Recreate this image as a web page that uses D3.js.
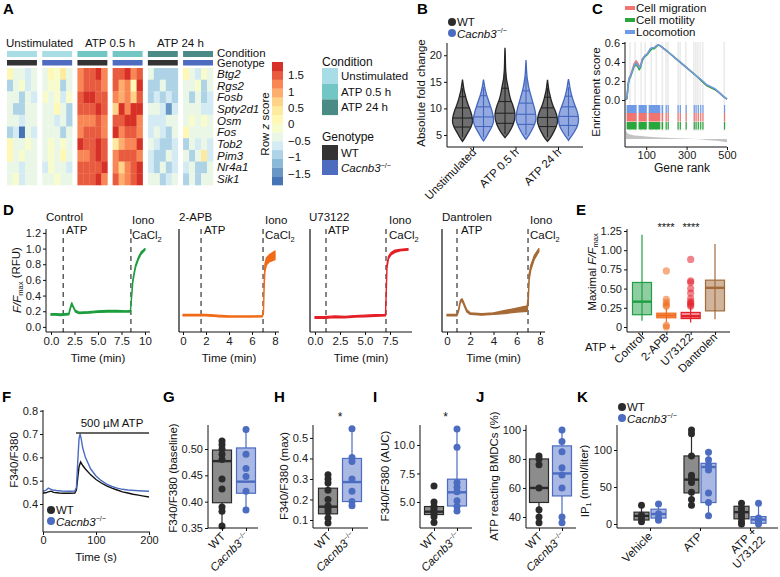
<!DOCTYPE html>
<html>
<head>
<meta charset="utf-8">
<script src="https://cdn.jsdelivr.net/npm/d3@7"></script>
<style>
  body { margin: 0; background: #fff; }
  svg { font-family: "Liberation Sans", Arial, Helvetica, sans-serif; }
</style>
</head>
<body>
<svg width="780" height="577"></svg>
<script>
const FONT = '"Liberation Sans", Arial, Helvetica, sans-serif';

// ---------------- data ----------------
// A: heatmap (row z scores, 6 blocks x 5 samples)
const genes = ['Btg2', 'Rgs2', 'Fosb', 'Spty2d1', 'Osm', 'Fos', 'Tob2', 'Pim3', 'Nr4a1', 'Sik1'];
const conditions = ['Unstimulated', 'ATP 0.5 h', 'ATP 24 h'];
const conditionColors = ['#a9dde6', '#72c6c4', '#4a8b85'];
const genotypeColors = ['#333333', '#4d6cbf'];
const heatPalette = ['#4575b4', '#91bfdb', '#e0f3f8', '#ffffbf', '#fee090', '#fc8d59', '#d73027'];
const zScores = [
  [0.2,-0.5,-0.3,-0.7,-0.3, -0.3,0.1,-0.2,0.3,-0.3, 1.3,1.6,1.4,1.7,1.2, 1.5,1.6,1.8,1.2,1.5, -0.4,-0.9,-1.0,-1.0,-0.8, 0.1,-0.3,-0.6,-0.2,-0.5],
  [-0.8,-0.5,-0.2,-0.6,-0.4, -0.5,-0.2,-0.1,-1.0,-0.3, 1.2,1.6,1.5,1.4,1.3, 1.4,0.9,1.2,0.2,1.7, -1.0,-0.8,-0.4,-1.0,-0.9, -0.5,-0.3,-0.2,-0.8,-0.5],
  [-0.4,-0.5,-0.8,-0.3,-0.6, -0.2,-0.5,0.0,-0.6,-0.2, 1.4,1.7,1.7,1.4,1.5, 1.1,0.9,1.3,0.7,1.6, -0.9,-0.7,-0.8,-0.6,-0.8, -0.4,-0.8,-0.5,-0.9,-0.6],
  [-0.4,-0.8,-0.8,-0.3,-0.5, -0.3,-0.5,0.2,-0.3,-0.8, 1.5,1.6,1.4,1.7,1.6, 0.6,1.8,1.1,1.7,1.7, -0.5,-0.4,-0.7,-1.5,-0.6, -0.3,-0.5,-0.4,-0.6,-0.7],
  [-0.3,-0.3,-0.7,-0.5,-0.5, -0.4,-0.3,-0.6,-0.3,-0.9, 1.2,1.3,1.3,1.5,1.2, 1.6,1.4,1.7,1.9,1.3, -0.7,-0.6,-0.7,-0.4,-0.4, -0.3,-0.2,-0.4,-0.2,-0.3],
  [-0.8,-0.6,-1.8,-0.4,-0.6, -0.3,-0.4,-0.3,-1.0,-0.5, 1.3,1.5,1.5,1.4,1.2, 1.9,1.1,1.4,1.5,1.2, -0.6,-0.5,-0.6,-0.8,-0.5, 0.1,-0.3,-0.3,-0.5,-0.4],
  [0.2,-0.4,-0.3,0.0,-0.5, -0.3,-0.2,-0.3,-0.2,-0.5, 1.9,1.6,1.4,1.8,1.5, 0.3,1.0,1.3,1.2,1.8, -0.5,-0.7,-0.9,-0.8,-0.7, -0.8,-0.5,-0.7,-0.3,-0.6],
  [0.1,-0.5,-0.2,-0.3,-0.4, -0.4,-0.2,-0.3,0.1,-0.3, 1.3,1.3,1.6,1.7,1.4, 1.2,1.5,1.4,1.6,1.3, -0.6,-1.0,-0.8,-0.5,-0.7, -0.5,-0.9,-0.5,0.3,-0.7],
  [-0.5,-0.4,-0.6,-0.3,-0.5, -0.6,-0.2,-0.4,-0.3,-0.6, 1.4,1.6,1.6,1.5,1.7, 1.3,0.8,1.2,1.5,1.8, -0.7,-0.8,-0.5,-0.9,-0.6, -0.6,-0.3,-0.8,-1.0,-0.5],
  [-0.3,-0.2,-0.6,-0.3,-0.4, -0.5,-0.3,-0.2,-0.4,-0.5, 1.5,1.6,1.5,1.8,1.3, 1.4,1.0,1.2,1.6,1.7, -0.4,-0.5,-0.8,-0.6,-0.5, -0.9,-0.3,-1.0,-0.5,-0.4]
];
const zTicks = [1.5, 1, 0.5, 0, -0.5, -1, -1.5];

// B: violin profiles [fold change, relative width]
const bGroups = ['Unstimulated', 'ATP 0.5 h', 'ATP 24 h'];
const violinWT = [
  [[3.8,0],[4.5,0.25],[5.5,0.55],[6.5,0.85],[7.5,1],[8.5,0.95],[9.5,0.8],[10.5,0.6],[11.5,0.42],[12.5,0.28],[13.5,0.15],[14.5,0.07],[15.4,0]],
  [[4.5,0],[5.5,0.4],[6.5,0.7],[7.5,0.9],[8.5,1],[9.5,0.95],[10.5,0.8],[11.5,0.6],[12.5,0.45],[13.5,0.35],[14.5,0.25],[15.5,0.15],[16.5,0.1],[17.5,0.06],[19,0.04],[20.5,0.02],[21.4,0]],
  [[3.8,0],[4.5,0.3],[5.5,0.6],[6.5,0.85],[7.5,1],[8.5,0.95],[9.5,0.78],[10.5,0.55],[11.5,0.38],[12.5,0.25],[13.5,0.13],[14.5,0.06],[15.4,0]]
];
const violinKO = [
  [[3.9,0],[4.5,0.22],[5.5,0.52],[6.5,0.82],[7.5,1],[8.5,0.97],[9.5,0.85],[10.5,0.68],[11.5,0.5],[12.5,0.32],[13.5,0.18],[14.5,0.08],[15.4,0]],
  [[4.2,0],[5,0.3],[6,0.6],[7,0.85],[8,1],[9,0.95],[10,0.85],[11,0.7],[12,0.55],[13,0.4],[14,0.27],[15,0.18],[16,0.1],[17,0.06],[18,0.03],[19.1,0]],
  [[4,0],[4.8,0.3],[5.8,0.65],[6.8,0.9],[7.8,1],[8.8,0.95],[9.8,0.8],[10.8,0.6],[11.8,0.42],[12.8,0.27],[13.8,0.15],[14.8,0.07],[15.5,0]]
];
const violinLinesWT = [[6.5, 8.2, 10.1, 12.2], [7.2, 9.1, 11.3, 13.8], [6.6, 8.3, 10.1, 12.1]];
const violinLinesKO = [[6.6, 8.4, 10.3, 12.4], [7.0, 8.9, 11.0, 13.3], [6.8, 8.5, 10.3, 12.3]];
const violinStemWT = [[4.6, 13.8], [5.2, 17], [4.6, 13.8]];
const violinStemKO = [[4.6, 14], [5, 16], [4.8, 14]];

// C: GSEA running enrichment score
const esLocomotion = [[0,0],[5,0.02],[10,0.15],[15,0.22],[22,0.25],[30,0.3],[40,0.36],[50,0.39],[58,0.37],[65,0.34],[72,0.35],[80,0.42],[88,0.45],[95,0.47],[103,0.48],[110,0.5],[120,0.54],[130,0.55],[140,0.55],[150,0.57],[160,0.58],[170,0.57],[200,0.52],[250,0.43],[300,0.34],[350,0.25],[380,0.2],[400,0.16],[420,0.14],[440,0.12],[460,0.08],[480,0.04],[500,0.01]];
const esMigration = [[0,0],[5,0.02],[10,0.16],[15,0.23],[22,0.26],[30,0.31],[40,0.38],[50,0.41],[58,0.39],[65,0.36],[72,0.36],[80,0.43],[88,0.45],[95,0.47],[103,0.48],[110,0.5],[120,0.53],[130,0.55],[140,0.55],[150,0.57],[160,0.58],[170,0.57],[200,0.52],[250,0.43],[300,0.34],[350,0.25],[380,0.19],[400,0.15],[420,0.13],[440,0.11],[460,0.08],[480,0.04],[500,0.01]];
const esMotility = [[0,0],[5,0.02],[10,0.15],[15,0.21],[22,0.24],[30,0.29],[40,0.35],[50,0.37],[58,0.35],[65,0.32],[72,0.34],[80,0.41],[88,0.44],[95,0.46],[103,0.47],[110,0.49],[120,0.52],[130,0.54],[140,0.54],[150,0.56],[160,0.58],[170,0.57],[200,0.52],[250,0.43],[300,0.34],[350,0.25],[380,0.19],[400,0.15],[420,0.13],[440,0.11],[460,0.08],[480,0.04],[500,0.01]];
const hitRanges = [[3,53],[62,103],[112,170],[176,184],[196,200],[206,211],[255,260],[266,270],[295,298],[335,338],[344,347],[355,358],[367,370],[378,381],[485,488]];
const gridRanks = [20, 45, 75, 95, 125, 150, 180, 198, 208, 258, 268, 296, 336, 346, 356, 368, 380, 486];
const rankMetric = [[0,0.9],[10,0.6],[30,0.45],[60,0.35],[100,0.28],[200,0.15],[300,0.05],[350,0],[400,-0.1],[450,-0.2],[500,-0.35]];

// D: calcium traces [time (min), low, high]
const traceControl = [[0,0.15,0.17],[0.5,0.15,0.17],[1,0.145,0.165],[1.5,0.15,0.17],[1.9,0.155,0.175],[2.05,0.22,0.25],[2.2,0.29,0.31],[2.35,0.25,0.27],[2.6,0.19,0.21],[3,0.17,0.19],[4,0.175,0.195],[5,0.185,0.205],[6,0.19,0.21],[7,0.19,0.21],[8,0.19,0.205],[8.45,0.19,0.21],[8.55,0.33,0.37],[8.7,0.56,0.6],[8.85,0.67,0.7],[9.0,0.76,0.79],[9.3,0.86,0.89],[9.6,0.93,0.96],[10,0.98,1.0]];
const trace2APB = [[0,0.14,0.16],[1,0.14,0.16],[2,0.14,0.16],[3,0.13,0.15],[4,0.125,0.14],[5,0.125,0.14],[6,0.125,0.14],[6.9,0.13,0.145],[7.0,0.18,0.22],[7.05,0.45,0.55],[7.12,0.7,0.8],[7.25,0.79,0.88],[7.5,0.83,0.92],[8.0,0.86,0.97]];
const traceU73122 = [[0,0.11,0.13],[1,0.11,0.13],[2,0.12,0.14],[3,0.115,0.135],[4,0.125,0.145],[5,0.13,0.15],[6,0.135,0.155],[7.05,0.14,0.16],[7.12,0.4,0.45],[7.2,0.75,0.8],[7.35,0.87,0.9],[7.6,0.92,0.95],[8,0.95,0.98],[8.5,0.97,0.99],[9.3,0.98,1.0]];
const traceDantrolen = [[0,0.14,0.16],[0.85,0.14,0.16],[1.0,0.2,0.23],[1.15,0.31,0.34],[1.3,0.33,0.36],[1.45,0.28,0.31],[1.7,0.19,0.22],[2,0.16,0.18],[3,0.15,0.17],[4,0.16,0.18],[5,0.17,0.21],[6,0.19,0.24],[6.9,0.2,0.27],[7.0,0.35,0.42],[7.07,0.6,0.68],[7.2,0.72,0.78],[7.5,0.86,0.91],[7.9,0.96,1.0]];

// E: maximal F/Fmax boxplots [lower whisker, q1, median, q3, upper whisker]
const eGroups = ['Control', '2-APB', 'U73122', 'Dantrolen'];
const eColors = ['#1f9e44', '#f0691a', '#e31f2a', '#a36a3a'];
const eStats = [[0.08,0.16,0.33,0.58,1.2], [0.06,0.12,0.15,0.18,0.24], [0.06,0.11,0.14,0.19,0.26], [0.1,0.21,0.51,0.61,1.08]];
const eOutliers = [[], [0.73,0.36,0.32,0.29,0.27,0.02,0.0], [0.88,0.6,0.58,0.5,0.44,0.37,0.33,0.31,0.29,0.27], []];

// F: F340/F380 traces [time (s), ratio]
const fTraceWT = [[0,0.447],[5,0.448],[10,0.452],[15,0.455],[20,0.45],[30,0.447],[40,0.446],[50,0.446],[60,0.447],[63,0.46],[66,0.52],[68,0.56],[71,0.58],[75,0.565],[80,0.55],[90,0.525],[100,0.505],[110,0.49],[120,0.478],[130,0.468],[140,0.46],[150,0.452],[160,0.447],[170,0.442],[180,0.438],[190,0.434],[200,0.43]];
const fTraceKO = [[0,0.455],[5,0.458],[10,0.468],[13,0.465],[18,0.46],[25,0.458],[35,0.456],[50,0.455],[60,0.456],[63,0.47],[66,0.6],[68,0.68],[70,0.7],[72,0.68],[75,0.64],[80,0.6],[90,0.55],[100,0.52],[110,0.5],[120,0.485],[130,0.475],[140,0.468],[150,0.463],[160,0.46],[180,0.457],[200,0.455]];

// G-J: WT vs Cacnb3-/- boxplots
const gStats = [[0.354,0.398,0.477,0.498,0.515], [0.384,0.416,0.438,0.502,0.537]];
const gPoints = [[0.515,0.508,0.50,0.49,0.48,0.443,0.424,0.39,0.382,0.354], [0.537,0.49,0.463,0.448,0.42,0.384]];
const hStats = [[0.085,0.13,0.165,0.255,0.32], [0.17,0.19,0.285,0.40,0.545]];
const hPoints = [[0.32,0.3,0.28,0.245,0.2,0.17,0.155,0.14,0.11,0.085], [0.545,0.405,0.385,0.3,0.24,0.19,0.17]];
const iStats = [[3.2,3.9,4.15,4.6,5.0], [4.2,4.65,5.85,7.0,11.4]];
const iPoints = [[6.4,5.0,4.6,4.4,4.2,4.0,3.7,3.2], [11.4,9.8,6.7,6.3,5.9,5.1,4.6,4.2]];
const jStats = [[36,50,60,80,82], [36,54.5,70,89,100]];
const jPoints = [[82,80,76,60,45,40,36], [100,92,85,74,69,60,40,36]];

// K: IP1 per treatment, [WT, Cacnb3-/-]
const kGroups = ['Vehicle', 'ATP', 'ATP + U73122'];
const kStatsWT = [[3,5.4,11,16,25.5], [25.5,42,60,92,127], [0,7,16,24,28]];
const kStatsKO = [[5,8,13.5,20,27], [11,29,77,82,97], [0,1,6,10,28]];
const kPointsWT = [[25.5,12,7,3], [127,122,92,66,62,56,43,33,25.5], [28,22,17,12,8,3,0]];
const kPointsKO = [[27,14,8,5], [97,87,80,73,42,29,11], [28,8,6,3,0]];

// ---------------- helpers ----------------
const svg = d3.select('svg');
svg.append('rect').attr('width', 780).attr('height', 577).attr('fill', '#fff');
const WTc = { stroke: '#2b2b2b', fill: '#8c8c8c', dot: '#2b2b2b' };
const KOc = { stroke: '#4b6cc1', fill: '#a9b9e4', dot: '#4b6cc1' };

function letter(x, y, s) {
  svg.append('text').attr('x', x).attr('y', y).text(s)
    .attr('font-size', 15).attr('font-weight', 'bold').attr('fill', '#000');
}
function text(g, x, y, s, size, anchor) {
  return g.append('text').attr('x', x).attr('y', y).text(s)
    .attr('font-size', size || 11.5).attr('text-anchor', anchor || 'start').attr('fill', '#111');
}
function koText(t) {
  t.append('tspan').attr('font-style', 'italic').text('Cacnb3');
  t.append('tspan').attr('font-size', '0.62em').attr('dy', '-0.6em').text('−/−');
}
function yAxis(g, y, x, ticks, fmt) {
  const ax = g.append('g').attr('transform', `translate(${x},0)`)
    .call(d3.axisLeft(y).tickValues(ticks).tickFormat(fmt || null).tickSize(3).tickPadding(2))
    .attr('font-size', 11).attr('font-family', FONT);
  ax.select('.domain').attr('stroke', '#111').attr('d', `M0,${y.range()[0]}V${y.range()[1]}`);
  ax.selectAll('.tick line').attr('stroke', '#111');
  ax.selectAll('.tick text').attr('fill', '#1a1a1a');
  return ax;
}
function xAxis(g, x, yPos, ticks, fmt, x0, x1) {
  const ax = g.append('g').attr('transform', `translate(0,${yPos})`)
    .call(d3.axisBottom(x).tickValues(ticks).tickFormat(fmt === undefined ? null : fmt).tickSize(3).tickPadding(1.5))
    .attr('font-size', 11).attr('font-family', FONT);
  ax.select('.domain').attr('stroke', '#111').attr('d', `M${x0},0H${x1}`);
  ax.selectAll('.tick line').attr('stroke', '#111');
  ax.selectAll('.tick text').attr('fill', '#1a1a1a');
  return ax;
}
function yTitle(g, ax, axisX, cy, build) {
  const bb = ax.node().getBBox();
  const t = g.append('text').attr('transform', `translate(${axisX + bb.x - 5},${cy}) rotate(-90)`)
    .attr('text-anchor', 'middle').attr('font-size', 11.5).attr('fill', '#111');
  if (typeof build === 'string') t.text(build); else build(t);
  return t;
}
function rotLabel(g, x, y, build) {
  const t = g.append('text').attr('transform', `translate(${x},${y}) rotate(-45)`)
    .attr('text-anchor', 'end').attr('font-size', 11.5).attr('fill', '#111');
  if (typeof build === 'string') t.text(build); else build(t);
  return t;
}
function boxplot(g, cx, w, s, y, col, fillOpacity) {
  g.append('line').attr('x1', cx).attr('x2', cx).attr('y1', y(s[0])).attr('y2', y(s[4]))
    .attr('stroke', col.stroke).attr('stroke-width', 1.2);
  g.append('rect').attr('x', cx - w / 2).attr('y', y(s[3])).attr('width', w).attr('height', y(s[1]) - y(s[3]))
    .attr('fill', col.fill).attr('fill-opacity', fillOpacity).attr('stroke', col.stroke).attr('stroke-width', 1.2);
  g.append('line').attr('x1', cx - w / 2).attr('x2', cx + w / 2).attr('y1', y(s[2])).attr('y2', y(s[2]))
    .attr('stroke', col.stroke).attr('stroke-width', 2.4);
}
function dots(g, cx, vals, y, color, r, op) {
  g.selectAll(null).data(vals).enter().append('circle')
    .attr('cx', cx).attr('cy', d => y(d)).attr('r', r || 3.5)
    .attr('fill', color).attr('fill-opacity', op || 1);
}
function legendDots(g, x, y) {
  g.append('circle').attr('cx', x).attr('cy', y).attr('r', 4).attr('fill', WTc.dot);
  text(g, x + 5, y + 4, 'WT', 11.5);
  g.append('circle').attr('cx', x).attr('cy', y + 11).attr('r', 4).attr('fill', KOc.dot);
  koText(text(g, x + 5, y + 15.5, '', 11.5));
}

// ---------------- A: heatmap ----------------
const gA = svg.append('g');
letter(3, 14, 'A');
const blockX = d3.scaleBand().domain(d3.range(6)).range([7, 213]).paddingInner(0.15);
const colX = d3.scaleBand().domain(d3.range(5)).range([0, blockX.bandwidth()]);
const rowY = d3.scaleBand().domain(genes).range([68, 185]);
const heatInterp = d3.piecewise(d3.interpolateRgb, heatPalette);
const zScale = d3.scaleQuantize().domain([-1.85, 1.9]).range(d3.quantize(heatInterp, 14));

genes.forEach((gene, r) => {
  zScores[r].forEach((v, i) => {
    const b = Math.floor(i / 5), c = i % 5;
    gA.append('rect').attr('x', blockX(b) + colX(c)).attr('y', rowY(gene))
      .attr('width', colX.bandwidth() + 0.3).attr('height', rowY.bandwidth() + 0.3).attr('fill', zScale(v));
  });
  text(gA, 217, rowY(gene) + rowY.bandwidth() / 2 + 4, gene, 11.5).attr('font-style', 'italic');
});
d3.range(6).forEach(b => {
  gA.append('rect').attr('x', blockX(b)).attr('y', 51).attr('width', blockX.bandwidth()).attr('height', 6)
    .attr('fill', conditionColors[Math.floor(b / 2)]);
  gA.append('rect').attr('x', blockX(b)).attr('y', 60).attr('width', blockX.bandwidth()).attr('height', 5.5)
    .attr('fill', genotypeColors[b % 2]);
});
conditions.forEach((c, i) => {
  const cx = (blockX(2 * i) + blockX(2 * i + 1) + blockX.bandwidth()) / 2;
  text(gA, cx, 47, c, 11.5, 'middle');
});
text(gA, 217, 57, 'Condition', 11.5);
text(gA, 217, 67, 'Genotype', 11);

const zBar = d3.scaleLinear().domain([-1.85, 1.9]).range([185, 62]);
zScale.range().forEach(col => {
  const [a, b] = zScale.invertExtent(col);
  gA.append('rect').attr('x', 272).attr('y', zBar(b)).attr('width', 11).attr('height', zBar(a) - zBar(b) + 0.3).attr('fill', col);
});
zTicks.forEach(t => text(gA, 288, zBar(t) + 4, d3.format('')(t), 11.5));
const rz = gA.append('text').attr('transform', 'translate(269,124) rotate(-90)').attr('text-anchor', 'middle')
  .attr('font-size', 11.5).attr('fill', '#111');
rz.append('tspan').text('Row ');
rz.append('tspan').attr('font-style', 'italic').text('z');
rz.append('tspan').text(' score');

text(gA, 322, 66, 'Condition', 12);
conditions.forEach((c, i) => {
  gA.append('rect').attr('x', 322).attr('y', 68 + i * 15.7).attr('width', 16).attr('height', 15.7).attr('fill', conditionColors[i]);
  text(gA, 341, 80 + i * 15.7, c, 11.5);
});
text(gA, 322, 141, 'Genotype', 12);
genotypeColors.forEach((c, i) => {
  gA.append('rect').attr('x', 322).attr('y', 145 + i * 15).attr('width', 16).attr('height', 15).attr('fill', c);
});
text(gA, 341, 157, 'WT', 11.5);
koText(text(gA, 341, 172, '', 11.5));

// ---------------- B: violins ----------------
const gB = svg.append('g');
letter(417, 14, 'B');
const bY = d3.scaleLinear().domain([2.75, 22.3]).range([147, 43]);
const bX = d3.scalePoint().domain(bGroups).range([473, 558]);
const axB = yAxis(gB, bY, 447, [5, 10, 15, 20]);
yTitle(gB, axB, 447, 93, 'Absolute fold change');
xAxis(gB, bX, 147, bGroups, '', 447, 583);

function widthAt(prof, v) {
  for (let i = 1; i < prof.length; i++) {
    if (v <= prof[i][0]) {
      const a = prof[i - 1], b = prof[i];
      return a[1] + (b[1] - a[1]) * (v - a[0]) / (b[0] - a[0]);
    }
  }
  return 0;
}
function violin(cx, prof, lines, stem, col) {
  const hw = 10;
  const area = d3.area().y(d => bY(d[0])).x0(d => cx - d[1] * hw).x1(d => cx + d[1] * hw).curve(d3.curveCatmullRom);
  gB.append('path').attr('d', area(prof)).attr('fill', col.fill).attr('stroke', col.stroke).attr('stroke-width', 1.3);
  lines.forEach(v => {
    const w = widthAt(prof, v) * hw;
    gB.append('line').attr('x1', cx - w).attr('x2', cx + w).attr('y1', bY(v)).attr('y2', bY(v))
      .attr('stroke', col.stroke).attr('stroke-width', 1.1);
  });
  gB.append('line').attr('x1', cx).attr('x2', cx).attr('y1', bY(stem[0])).attr('y2', bY(stem[1]))
    .attr('stroke', col.stroke).attr('stroke-width', 1.1);
}
const vWT = { fill: '#6e6e6e', stroke: '#252525' };
const vKO = { fill: '#93a9df', stroke: '#4467bf' };
bGroups.forEach((g, i) => {
  const cx = bX(g);
  violin(cx - 10.5, violinWT[i], violinLinesWT[i], violinStemWT[i], vWT);
  violin(cx + 10.5, violinKO[i], violinLinesKO[i], violinStemKO[i], vKO);
  rotLabel(gB, cx + 4, 153, g);
});
legendDots(gB, 452, 22);

// ---------------- C: GSEA ----------------
const gC = svg.append('g');
letter(592, 14, 'C');
const cX = d3.scaleLinear().domain([0, 500]).range([626, 727]);
const cY = d3.scaleLinear().domain([-0.495, 0.61]).range([147, 42]);
gridRanks.forEach(r => gC.append('line').attr('x1', cX(r)).attr('x2', cX(r)).attr('y1', 42).attr('y2', 131)
  .attr('stroke', '#ebebeb').attr('stroke-width', 1.6));
const mY = d3.scaleLinear().domain([0, 1]).range([139, 130]);
gC.append('path').attr('d', d3.area().x(d => cX(d[0])).y0(mY(0)).y1(d => mY(d[1])).curve(d3.curveMonotoneX)(rankMetric))
  .attr('fill', '#c4c4c4');
const hitRows = [['#6f9be6', 105, 8], ['#f07470', 113, 8.5], ['#2aa73c', 122, 7.5]];
hitRows.forEach(([c, y0, h]) => {
  hitRanges.forEach(([a, b]) => gC.append('rect').attr('x', cX(a)).attr('y', y0).attr('width', Math.max(1.2, cX(b) - cX(a)))
    .attr('height', h).attr('fill', c));
});
const esLine = d3.line().x(d => cX(d[0])).y(d => cY(d[1]));
[[esMigration, '#f07470'], [esMotility, '#2aa73c'], [esLocomotion, '#6f9be6']].forEach(([d, c]) =>
  gC.append('path').attr('d', esLine(d)).attr('fill', 'none').attr('stroke', c).attr('stroke-width', 1.5));
const axC = yAxis(gC, cY, 625, [0, 0.2, 0.4, 0.6], d3.format('.1f'));
xAxis(gC, cX, 147, [100, 300, 500], d3.format('d'), 625, 727);
yTitle(gC, axC, 625, 92, 'Enrichment score');
text(gC, 682, 172, 'Gene rank', 12, 'middle');
[['Cell migration', '#f07470'], ['Cell motility', '#2aa73c'], ['Locomotion', '#6f9be6']].forEach(([s, c], i) => {
  gC.append('rect').attr('x', 625).attr('y', 6 + i * 12).attr('width', 10).attr('height', 4).attr('fill', c);
  text(gC, 636, 12 + i * 12, s, 11.5);
});

// ---------------- D: calcium traces ----------------
const gD = svg.append('g');
letter(3, 215, 'D');
const dY = d3.scaleLinear().domain([-0.065, 1.25]).range([332, 229]);
const dPanels = [
  { trace: traceControl, color: '#1d9e3e', axisX: 46, end: 150, range: [51, 145], tmax: 10, ticks: [0, 2.5, 5, 7.5, 10],
    fmt: d => d === 10 ? '10' : d3.format('.1f')(d), dashes: [1.3, 8.5], name: 'Control', nameX: 46, atpX: 66, ionoX: 132 },
  { trace: trace2APB, color: '#f06a17', axisX: 179, end: 279, range: [183, 275], tmax: 8, ticks: [0, 2, 4, 6, 8],
    fmt: d3.format('d'), dashes: [1.57, 6.96], name: '2-APB', nameX: 179, atpX: 204, ionoX: 265 },
  { trace: traceU73122, color: '#e41f26', axisX: 310, end: 412, range: [315, 390], tmax: 7.5, ticks: [0, 2.5, 5, 7.5],
    fmt: d3.format('.1f'), dashes: [1.1, 7.1], name: 'U73122', nameX: 309, atpX: 328, ionoX: 389 },
  { trace: traceDantrolen, color: '#a56a36', axisX: 442, end: 545, range: [447, 540], tmax: 8, ticks: [0, 2, 4, 6, 8],
    fmt: d3.format('d'), dashes: [0.86, 6.97], name: 'Dantrolen', nameX: 442, atpX: 461, ionoX: 530 }
];
dPanels.forEach((p, i) => {
  const x = d3.scaleLinear().domain([0, p.tmax]).range(p.range);
  p.dashes.forEach(t => gD.append('line').attr('x1', x(t)).attr('x2', x(t)).attr('y1', 229).attr('y2', 332)
    .attr('stroke', '#444').attr('stroke-width', 1.3).attr('stroke-dasharray', '5,4'));
  const ar = d3.area().x(d => x(d[0])).y0(d => dY(d[1])).y1(d => dY(d[2]));
  gD.append('path').attr('d', ar(p.trace)).attr('fill', p.color).attr('stroke', p.color).attr('stroke-width', 1.3)
    .attr('stroke-linejoin', 'round');
  const ay = yAxis(gD, dY, p.axisX, i === 0 ? [0, 0.2, 0.4, 0.6, 0.8, 1.0, 1.2] : [], d3.format('.1f'));
  if (i > 0) ay.select('.domain').attr('stroke-width', 1.2);
  xAxis(gD, x, 332, p.ticks, p.fmt, p.axisX, p.end).selectAll('.tick text').attr('font-size', 11.5);
  text(gD, (p.axisX + p.end) / 2, 362, 'Time (min)', 11.5, 'middle');
  text(gD, p.nameX, 221, p.name, 11.5);
  text(gD, p.atpX, 234, 'ATP', 11.5);
  text(gD, p.ionoX, 224, 'Iono', 11.5);
  const ca = text(gD, p.ionoX, 239, 'CaCl', 11.5);
  ca.append('tspan').attr('font-size', '0.65em').attr('dy', '0.35em').text('2');
  if (i === 0) {
    yTitle(gD, ay, p.axisX, 280, t => {
      t.append('tspan').attr('font-style', 'italic').text('F/F');
      t.append('tspan').attr('font-size', '0.65em').attr('dy', '0.35em').text('max');
      t.append('tspan').attr('dy', '-0.3em').text(' (RFU)');
    });
  }
});

// ---------------- E: maximal F/Fmax ----------------
const gE = svg.append('g');
letter(576, 215, 'E');
const eY = d3.scaleLinear().domain([-0.065, 1.276]).range([332, 229]);
const eX = d3.scalePoint().domain(eGroups).range([642, 715]);
eGroups.forEach((g, i) => {
  const col = { stroke: eColors[i], fill: eColors[i] };
  boxplot(gE, eX(g), 19, eStats[i], eY, col, 0.5);
  dots(gE, eX(g), eOutliers[i], eY, eColors[i], 3.6, 0.55);
  rotLabel(gE, eX(g) + 3, 338, g);
});
const axE = yAxis(gE, eY, 627, [0, 0.25, 0.5, 0.75, 1, 1.25], d => d === 0 ? '0' : d3.format('.2f')(d));
xAxis(gE, eX, 332, eGroups, '', 627, 730);
yTitle(gE, axE, 627, 272, t => {
  t.append('tspan').text('Maximal ');
  t.append('tspan').attr('font-style', 'italic').text('F/F');
  t.append('tspan').attr('font-size', '0.65em').attr('dy', '0.35em').text('max');
});
text(gE, 666, 231, '****', 11, 'middle');
text(gE, 691, 231, '****', 11, 'middle');
text(gE, 585, 351, 'ATP +', 11.5);

// ---------------- F: F340/F380 traces ----------------
const gF = svg.append('g');
letter(2, 402, 'F');
const fX = d3.scaleLinear().domain([0, 200]).range([43, 149]);
const fY = d3.scaleLinear().domain([0.28, 0.803]).range([532, 410]);
const fLine = d3.line().x(d => fX(d[0])).y(d => fY(d[1]));
gF.append('path').attr('d', fLine(fTraceWT)).attr('fill', 'none').attr('stroke', '#111').attr('stroke-width', 1.4);
gF.append('path').attr('d', fLine(fTraceKO)).attr('fill', 'none').attr('stroke', '#4b6cc1').attr('stroke-width', 1.4);
const axF = yAxis(gF, fY, 43, [0.4, 0.5, 0.6, 0.7, 0.8], d3.format('.1f'));
xAxis(gF, fX, 532, [0, 100, 200], d3.format('d'), 43, 150);
yTitle(gF, axF, 43, 460, 'F340/F380');
text(gF, 96, 561, 'Time (s)', 11.5, 'middle');
gF.append('line').attr('x1', 76).attr('x2', 149).attr('y1', 433).attr('y2', 433).attr('stroke', '#333').attr('stroke-width', 1.6);
text(gF, 112, 427, '500 µM ATP', 11.5, 'middle');
legendDots(gF, 51, 510);

// ---------------- G-J: boxplots WT vs KO ----------------
function pairPanel(axisX, endX, centers, y, ticks, fmt, stats, points, title, cy, star) {
  const g = svg.append('g');
  const x = d3.scalePoint().domain(['WT', 'KO']).range(centers);
  boxplot(g, x('WT'), 19, stats[0], y, WTc, 1);
  boxplot(g, x('KO'), 19, stats[1], y, KOc, 1);
  dots(g, x('WT'), points[0], y, WTc.dot, 3.5);
  dots(g, x('KO'), points[1], y, KOc.dot, 3.5);
  const ax = yAxis(g, y, axisX, ticks, fmt);
  xAxis(g, x, 528, ['WT', 'KO'], '', axisX, endX);
  yTitle(g, ax, axisX, cy, title);
  rotLabel(g, x('WT') + 4, 537, 'WT');
  rotLabel(g, x('KO') + 4, 537, koText);
  if (star) text(g, (centers[0] + centers[1]) / 2, 421, '*', 12, 'middle');
  return g;
}
pairPanel(208, 258, [222, 246], d3.scaleLinear().domain([0.35, 0.5456]).range([528, 425]),
  [0.35, 0.4, 0.45, 0.5], d3.format('.2f'), gStats, gPoints, 'F340/F380 (baseline)', 478, false);
pairPanel(313, 368, [328, 352], d3.scaleLinear().domain([0.061, 0.563]).range([528, 425]),
  [0.1, 0.2, 0.3, 0.4, 0.5], d3.format('.1f'), hStats, hPoints, 'F340/F380 (max)', 476, true);
pairPanel(420, 472, [434, 457], d3.scaleLinear().domain([2.72, 11.75]).range([528, 425]),
  [5, 7.5, 10], d3.format('.1f'), iStats, iPoints, 'F340/F380 (AUC)', 476, true);
pairPanel(526, 576, [539, 562], d3.scaleLinear().domain([32.4, 103.4]).range([528, 425]),
  [40, 60, 80, 100], d3.format('d'), jStats, jPoints, 'ATP reacting BMDCs (%)', 476, false);
['G', 'H', 'I', 'J'].forEach((s, i) => letter([163, 274, 373, 476][i], 402, s));

// ---------------- K: IP1 ----------------
const gK = svg.append('g');
letter(577, 402, 'K');
const kY = d3.scaleLinear().domain([-5.4, 133.8]).range([528, 425]);
const kX = d3.scalePoint().domain(kGroups).range([650, 750]);
kGroups.forEach((g, i) => {
  boxplot(gK, kX(g) - 8.5, 15, kStatsWT[i], kY, WTc, 1);
  boxplot(gK, kX(g) + 8.5, 15, kStatsKO[i], kY, KOc, 1);
  dots(gK, kX(g) - 8.5, kPointsWT[i], kY, WTc.dot, 3.5);
  dots(gK, kX(g) + 8.5, kPointsKO[i], kY, KOc.dot, 3.5);
});
const axK = yAxis(gK, kY, 617, [0, 50, 100], d3.format('d'));
xAxis(gK, kX, 528, kGroups, '', 617, 778);
yTitle(gK, axK, 617, 481, t => {
  t.append('tspan').text('IP');
  t.append('tspan').attr('font-size', '0.65em').attr('dy', '0.35em').text('1');
  t.append('tspan').attr('dy', '-0.3em').text(' (nmol/liter)');
});
rotLabel(gK, kX('Vehicle') + 3, 537, 'Vehicle');
rotLabel(gK, kX('ATP') + 3, 537, 'ATP');
rotLabel(gK, kX('ATP + U73122') + 8, 533, t => {
  t.append('tspan').attr('x', 0).attr('dy', '-0.1em').text('ATP +');
  t.append('tspan').attr('x', 0).attr('dy', '1.05em').text('U73122');
});
legendDots(gK, 622, 407);
</script>
</body>
</html>
